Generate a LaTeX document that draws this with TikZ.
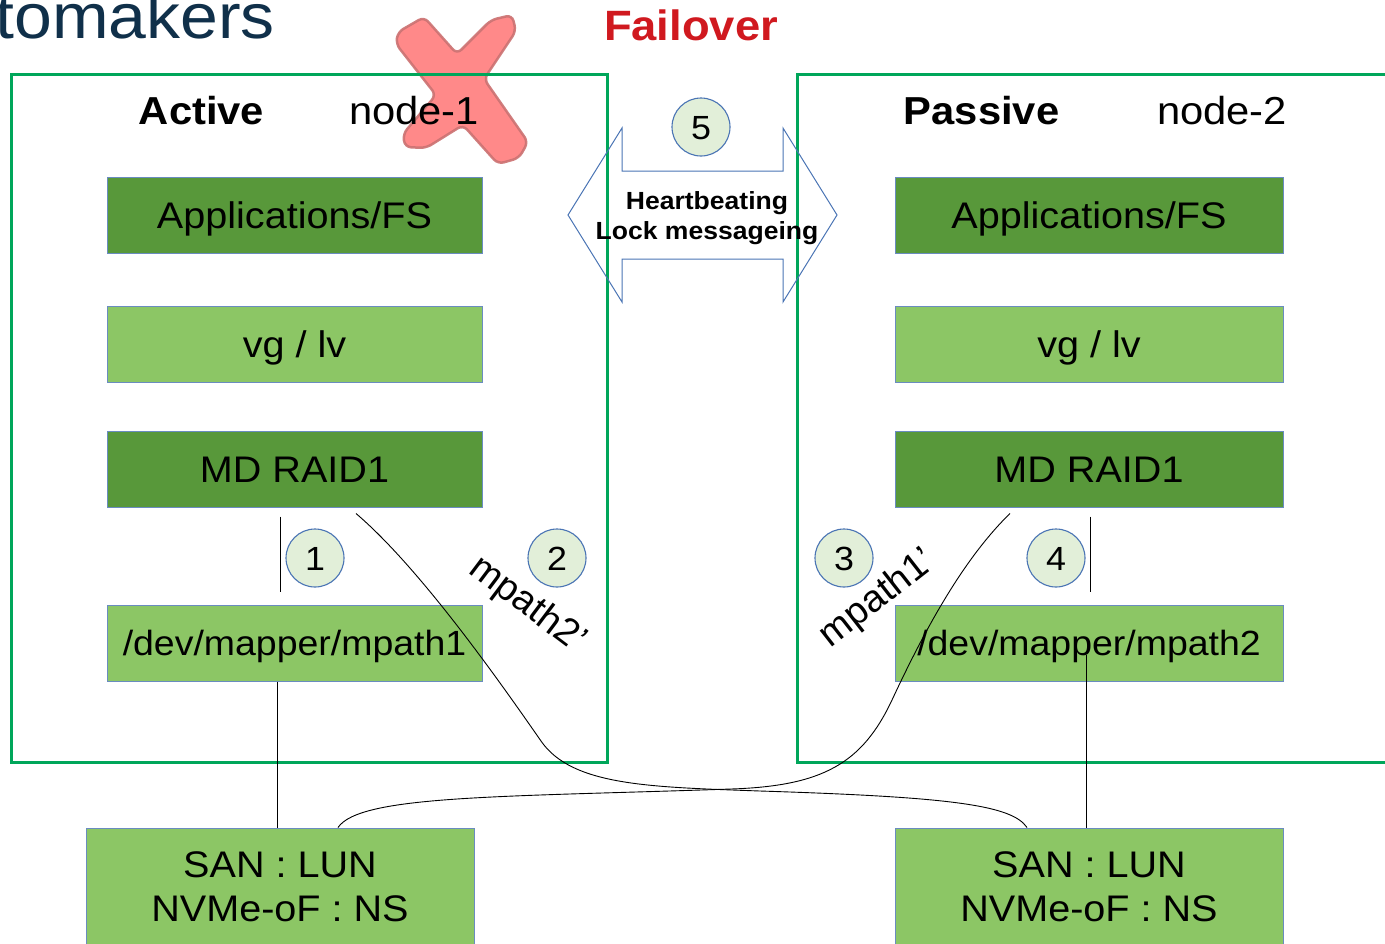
\documentclass[tikz,border=0pt]{standalone}
\usepackage{fontspec}
\setmainfont{Liberation Sans}
\usepackage{graphicx}

\definecolor{frameGreen}{HTML}{00A65A}
\definecolor{darkFill}{HTML}{58983A}
\definecolor{lightFill}{HTML}{8CC665}
\definecolor{edgeBlue}{HTML}{6A8CC0}
\definecolor{ringBlue}{HTML}{4A74B4}
\definecolor{ringFill}{HTML}{E2EFD9}
\definecolor{titleNavy}{HTML}{10304A}
\definecolor{alertRed}{HTML}{D0191F}
\definecolor{crossFill}{HTML}{FF7F7F}
\definecolor{crossEdge}{HTML}{CC7373}

% slightly widened lettering
\newcommand\wideText[1]{\scalebox{1.07}[1]{#1}}

\tikzset{
  layerbox/.style={draw=edgeBlue, line width=1pt, inner sep=0pt,
    minimum height=76pt, text height=31pt, text depth=5pt,
    font=\fontsize{37}{44}\selectfont},
  darkbox/.style={layerbox, fill=darkFill},
  lightbox/.style={layerbox, fill=lightFill},
  mapbox/.style={lightbox, text height=30pt, text depth=5pt,
    font=\fontsize{35}{42}\selectfont},
  sanbox/.style={draw=edgeBlue, line width=1pt, fill=lightFill, inner sep=0pt,
    minimum width=388pt, minimum height=117.4pt, align=center,
    font=\fontsize{37}{44}\selectfont},
  badge/.style={circle, draw=ringBlue, line width=1.1pt, fill=ringFill,
    minimum size=58pt, inner sep=0pt, text height=24pt, text depth=0pt,
    font=\fontsize{33.5}{40}\selectfont},
  hostframe/.style={draw=frameGreen, line width=3pt},
  wire/.style={draw=black, line width=0.9pt},
  hbline/.style={draw=ringBlue, line width=1pt},
  headline/.style={inner sep=0pt, anchor=base, font=\fontsize{39}{46}\selectfont},
  pathlabel/.style={inner sep=0pt, font=\fontsize{38}{44}\selectfont}
}

\begin{document}
\begin{tikzpicture}[x=1pt, y=-1pt]
\useasboundingbox (0,0) rectangle (1385,943);

% page title, running off the left edge
\node[inner sep=0pt, anchor=base east, text=titleNavy,
      font=\fontsize{63.5}{70}\selectfont] (title) at (275,38) {\wideText{tomakers}};

% failed-node cross
\draw[fill=crossFill, draw=crossEdge, line width=2.5pt, rounded corners=6pt, opacity=0.92]
  (398,32) -- (424,17) -- (457,54) -- (491,20) -- (512,15) -- (516,31)
  -- (484,79) -- (528,142) -- (519,158) -- (498,164) -- (463,125)
  -- (426,148) -- (405,147) -- (403,134) -- (436,95) -- (396,44) -- cycle;

% host frames
\draw[hostframe] (11,74) rectangle (607,762);
\draw[hostframe] (797,74) rectangle (1400,762);

% heartbeat double arrow
\draw[hbline] (568,215) -- (622,128) -- (622,171) -- (783,171) -- (783,128)
  -- (837,215) -- (783,302) -- (783,259) -- (622,259) -- (622,302) -- cycle;
\node[align=center, inner sep=0pt, font=\fontsize{24.8}{30}\selectfont\bfseries]
  (hb) at (707,218) {\wideText{Heartbeating}\\\wideText{Lock messageing}};

% headings
\node[inner sep=0pt, anchor=base, text=alertRed, font=\fontsize{42.4}{50}\selectfont\bfseries]
  (fail) at (691,40) {\wideText{Failover}};
\node[headline, font=\fontsize{39}{46}\selectfont\bfseries] (act) at (201.5,124) {\wideText{Active}};
\node[headline] (n1) at (414,124) {\wideText{node-1}};
\node[headline, font=\fontsize{39}{46}\selectfont\bfseries] (pas) at (981.5,124) {\wideText{Passive}};
\node[headline] (n2) at (1222,124) {\wideText{node-2}};

% node-1 stack
\node[darkbox,  minimum width=375pt] (app1)  at (294.5,215) {\wideText{Applications/FS}};
\node[lightbox, minimum width=375pt] (vg1)   at (294.5,344) {\wideText{vg / lv}};
\node[darkbox,  minimum width=375pt] (raid1) at (294.5,469) {\wideText{MD RAID1}};
\node[mapbox,   minimum width=375pt] (mp1)   at (294.5,643) {\wideText{/dev/mapper/mpath1}};

% node-2 stack
\node[darkbox,  minimum width=388pt] (app2)  at (1089,215) {\wideText{Applications/FS}};
\node[lightbox, minimum width=388pt] (vg2)   at (1089,344) {\wideText{vg / lv}};
\node[darkbox,  minimum width=388pt] (raid2) at (1089,469) {\wideText{MD RAID1}};
\node[mapbox,   minimum width=388pt] (mp2)   at (1089,643) {\wideText{/dev/mapper/mpath2}};

% storage targets
\node[sanbox] (san1) at (280,886.7)  {\wideText{SAN : LUN}\\\wideText{NVMe-oF : NS}};
\node[sanbox] (san2) at (1089,886.7) {\wideText{SAN : LUN}\\\wideText{NVMe-oF : NS}};

% numbered badges
\node[badge] (b1) at (315,558) {\wideText{1}};
\node[badge] (b2) at (557,558) {\wideText{2}};
\node[badge] (b3) at (844,558) {\wideText{3}};
\node[badge] (b4) at (1056,558) {\wideText{4}};
\node[badge] (b5) at (701,127) {\wideText{5}};

% local paths
\draw[wire] ([xshift=-14.5pt,yshift=-9pt]raid1.south) -- ([xshift=-14.5pt,yshift=13pt]mp1.north);
\draw[wire] ([xshift=1pt,yshift=-9pt]raid2.south) -- ([xshift=1pt,yshift=13pt]mp2.north);
\draw[wire] ([xshift=-17.5pt]mp1.south) -- ([xshift=-3pt]san1.north);
\draw[wire] ([xshift=-3pt,yshift=-12pt]mp2.center) -- ([xshift=-3pt]san2.north);

% crossed paths
\draw[wire] ([xshift=61.5pt,yshift=-6pt]raid1.south)
  .. controls (420,568) and (500,682) .. (541,741)
  .. controls (572,786) and (650,787) .. (760,791)
  .. controls (950,797) and (1012,805) .. ([xshift=-62pt]san2.north);
\draw[wire] ([xshift=-79pt,yshift=-6pt]raid2.south)
  .. controls (960,562) and (920,640) .. (892,700)
  .. controls (862,764) and (822,786) .. (731,789)
  .. controls (500,797) and (360,795) .. ([xshift=58pt]san1.north);

% path labels
\node[pathlabel, rotate=-37] (lbl2) at (527,605) {mpath2’};
\node[pathlabel, rotate=38]  (lbl1) at (878,599) {mpath1’};
\end{tikzpicture}
\end{document}
